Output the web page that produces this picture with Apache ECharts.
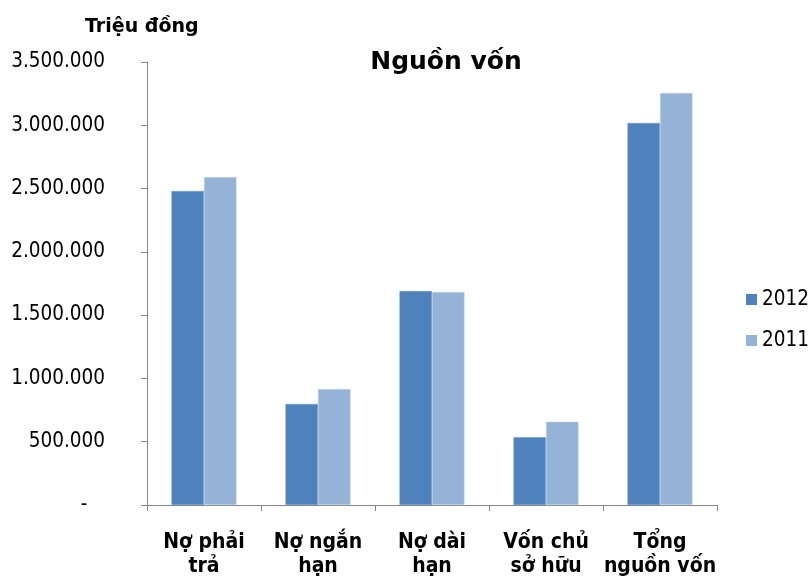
<!DOCTYPE html>
<html>
<head>
<meta charset="utf-8">
<script src="https://cdn.jsdelivr.net/npm/echarts@6/dist/echarts.min.js"></script>
<style>
  html, body { margin: 0; padding: 0; background: #fff; }
  #chart { width: 812px; height: 578px; }
</style>
</head>
<body>
<div id="chart"></div>
<script>
// Cơ cấu nguồn vốn (triệu đồng)
const categories = ['Nợ phải\ntrả', 'Nợ ngắn\nhạn', 'Nợ dài\nhạn', 'Vốn chủ\nsở hữu', 'Tổng\nnguồn vốn'];
const values2012 = [2480000, 798000, 1690000, 535000, 3018000];
const values2011 = [2591000, 916000, 1682000, 658000, 3255000];
const seriesNames = ['2012', '2011'];

const FONT = 'DejaVu Sans';
const FONT_NARROW = 'DejaVu Sans Condensed, DejaVu Sans';

function fmt(v) {
  if (v === 0) return '-   ';
  return String(v).replace(/\B(?=(\d{3})+(?!\d))/g, '.');
}

const chart = echarts.init(document.getElementById('chart'));
chart.setOption({
  animation: false,
  textStyle: { fontFamily: FONT },
  title: [
    {
      text: 'Nguồn vốn',
      left: 441, top: 45, textAlign: 'center',
      textStyle: { fontFamily: FONT, fontSize: 25, fontWeight: 'bold', color: '#000' }
    },
    {
      text: 'Triệu đồng',
      left: 80, top: 13,
      textStyle: { fontFamily: FONT, fontSize: 19, fontWeight: 'bold', color: '#000' }
    }
  ],
  legend: {
    orient: 'vertical',
    left: 746, top: 289, padding: 0,
    itemWidth: 11, itemHeight: 11, itemGap: 20,
    icon: 'rect',
    itemStyle: { borderWidth: 0 },
    textStyle: { fontFamily: FONT_NARROW, fontSize: 20.5, color: '#000' },
    data: seriesNames
  },
  grid: {
    left: 147, right: 95, top: 62, bottom: 73,
    containLabel: false, outerBoundsMode: 'none'
  },
  xAxis: {
    type: 'category',
    data: categories,
    axisLine: { lineStyle: { color: '#868686', width: 1 } },
    axisTick: { show: true, alignWithLabel: false, length: 6, lineStyle: { color: '#868686' } },
    axisLabel: {
      interval: 0, margin: 26, color: '#000',
      fontFamily: FONT_NARROW, fontSize: 21, fontWeight: 'bold', lineHeight: 24
    }
  },
  yAxis: {
    type: 'value',
    min: 0, max: 3500000, interval: 500000,
    axisLine: { show: true, lineStyle: { color: '#868686', width: 1 } },
    axisTick: { show: true, length: 6, lineStyle: { color: '#868686' } },
    splitLine: { show: false },
    axisLabel: {
      margin: 42, color: '#000',
      fontFamily: FONT_NARROW, fontSize: 20.5,
      formatter: fmt
    }
  },
  series: [
    {
      name: seriesNames[0], type: 'bar', data: values2012,
      barGap: '0%', barCategoryGap: '43%',
      itemStyle: { color: '#4F81BD', borderColor: '#6f9bcf', borderWidth: 0.5 }
    },
    {
      name: seriesNames[1], type: 'bar', data: values2011,
      barGap: '0%', barCategoryGap: '43%',
      itemStyle: { color: '#95B3D7', borderColor: '#c3d5ec', borderWidth: 0.5 }
    }
  ]
});
</script>
</body>
</html>
